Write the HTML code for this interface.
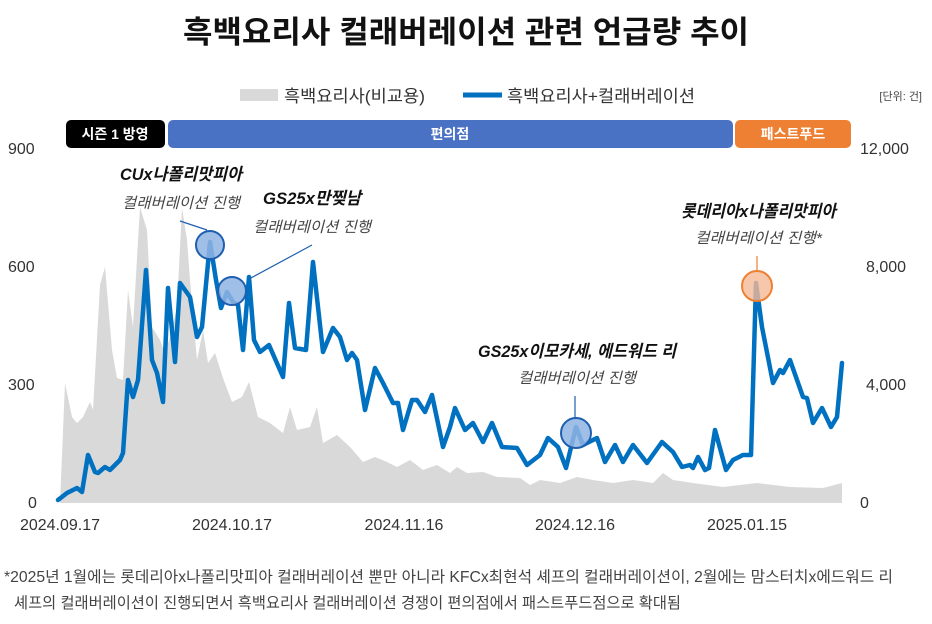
<!DOCTYPE html><html><head><meta charset="utf-8"><style>
body{margin:0;background:#fff;width:932px;height:619px;overflow:hidden;font-family:"Liberation Sans","Noto Sans CJK KR",sans-serif}
</style></head><body>
<svg width="932" height="619" viewBox="0 0 932 619" xmlns="http://www.w3.org/2000/svg" style="font-family:'Liberation Sans','Noto Sans CJK KR',sans-serif">
<text x="183" y="43" font-size="31" font-weight="bold" fill="#111" textLength="566" lengthAdjust="spacingAndGlyphs">흑백요리사 컬래버레이션 관련 언급량 추이</text>
<rect x="240" y="89" width="38" height="12" fill="#d9d9d9"/>
<text x="284" y="102" font-size="17" fill="#333" textLength="141" lengthAdjust="spacingAndGlyphs">흑백요리사(비교용)</text>
<line x1="463" y1="95" x2="502" y2="95" stroke="#0070c0" stroke-width="5"/>
<text x="507" y="102" font-size="17" fill="#333" textLength="188" lengthAdjust="spacingAndGlyphs">흑백요리사+컬래버레이션</text>
<text x="922" y="100" text-anchor="end" font-size="11" fill="#444">[단위: 건]</text>
<rect x="66" y="120" width="99" height="28" rx="5" fill="#000"/>
<text x="115" y="139" text-anchor="middle" font-size="14" font-weight="bold" fill="#fff">시즌 1 방영</text>
<rect x="168" y="120" width="565" height="28" rx="5" fill="#4a72c4"/>
<text x="450" y="139" text-anchor="middle" font-size="14" font-weight="bold" fill="#fff">편의점</text>
<rect x="735" y="120" width="116" height="28" rx="5" fill="#ee8033"/>
<text x="793" y="139" text-anchor="middle" font-size="14" font-weight="bold" fill="#fff">패스트푸드</text>
<g font-size="16" fill="#333">
<text x="8" y="154">900</text><text x="8" y="272">600</text><text x="8" y="390">300</text><text x="28" y="508">0</text>
<text x="860" y="154">12,000</text><text x="866" y="272">8,000</text><text x="866" y="390">4,000</text><text x="860" y="508">0</text>
<text x="60" y="530" text-anchor="middle">2024.09.17</text><text x="232" y="530" text-anchor="middle">2024.10.17</text><text x="404" y="530" text-anchor="middle">2024.11.16</text><text x="575" y="530" text-anchor="middle">2024.12.16</text><text x="747" y="530" text-anchor="middle">2025.01.15</text>
</g>
<polygon fill="#d9d9d9" points="60,503 65,383 72,417 77,423 83,417 90,402 93,410 100,285 105,267 112,350 117,378 123,380 128,290 133,327 140,207 147,230 152,327 160,340 165,353 170,337 177,307 182,208 187,240 190,280 197,360 203,330 208,363 215,353 223,378 232,402 242,397 249,382 258,417 270,423 283,433 290,407 297,430 310,427 317,407 323,443 337,435 350,447 363,462 375,457 387,462 397,467 410,460 423,470 437,465 450,473 457,467 467,473 483,472 497,477 520,478 530,485 540,480 560,483 577,477 593,480 613,483 633,480 653,483 663,473 673,480 693,483 723,487 757,483 790,487 823,488 842,483 842,503"/>
<polyline fill="none" stroke="#0070c0" stroke-width="4.5" stroke-linejoin="round" stroke-linecap="round" points="58,500 67,493 77,488 82,492 88,455 95,472 98,473 105,467 110,470 120,460 123,453 128,380 133,397 138,380 146,270 152,360 157,373 163,402 168,288 175,362 180,283 190,297 197,337 202,327 210,242 216,280 221,308 227,292 233,302 238,305 243,350 249,277 254,340 260,352 269,345 283,377 289,303 295,348 306,350 313,262 323,352 333,328 340,337 347,360 352,353 357,360 365,410 375,368 383,383 393,403 398,403 403,430 412,400 417,400 425,412 432,395 443,447 450,427 455,408 465,430 473,423 483,442 492,423 502,447 517,448 527,465 540,455 548,438 558,447 566,468 576,427 583,445 597,438 605,462 615,445 623,462 633,445 647,463 662,442 673,452 682,467 690,465 693,468 698,457 705,470 709,468 715,430 726,470 733,460 743,455 751,455 756,283 762,327 773,383 780,370 783,373 790,360 803,397 807,398 813,423 822,408 831,427 837,417 842,363"/>
<g stroke="#1f5fb0" stroke-width="1.2"><line x1="180" y1="221" x2="207" y2="230"/><line x1="249" y1="279" x2="312" y2="245"/><line x1="575" y1="396" x2="575" y2="419"/></g>
<line x1="757" y1="256" x2="757" y2="272" stroke="#ee8033" stroke-width="1.2"/>
<g fill="#8fb4e3" fill-opacity="0.85" stroke="#1f5fb0" stroke-width="2"><circle cx="210" cy="245" r="14"/><circle cx="232" cy="291" r="14"/><circle cx="576" cy="433" r="15"/></g>
<circle cx="757" cy="286" r="15" fill="#f5b996" fill-opacity="0.8" stroke="#ee8033" stroke-width="2"/>
<g font-style="italic">
<text x="120" y="180" font-size="17" font-weight="bold" fill="#111" textLength="122" lengthAdjust="spacingAndGlyphs">CUx나폴리맛피아</text>
<text x="122" y="208" font-size="15" fill="#444" textLength="118" lengthAdjust="spacingAndGlyphs">컬래버레이션 진행</text>
<text x="263" y="204" font-size="17" font-weight="bold" fill="#111" textLength="98" lengthAdjust="spacingAndGlyphs">GS25x만찢남</text>
<text x="253" y="232" font-size="15" fill="#444" textLength="118" lengthAdjust="spacingAndGlyphs">컬래버레이션 진행</text>
<text x="478" y="357" font-size="17" font-weight="bold" fill="#111" textLength="198" lengthAdjust="spacingAndGlyphs">GS25x이모카세, 에드워드 리</text>
<text x="518" y="383" font-size="15" fill="#444" textLength="118" lengthAdjust="spacingAndGlyphs">컬래버레이션 진행</text>
<text x="681" y="217" font-size="17" font-weight="bold" fill="#111" textLength="155" lengthAdjust="spacingAndGlyphs">롯데리아x나폴리맛피아</text>
<text x="695" y="243" font-size="15" fill="#444" textLength="127" lengthAdjust="spacingAndGlyphs">컬래버레이션 진행*</text>
</g>
<text x="4" y="582" font-size="15.5" fill="#444" textLength="889" lengthAdjust="spacingAndGlyphs">*2025년 1월에는 롯데리아x나폴리맛피아 컬래버레이션 뿐만 아니라 KFCx최현석 셰프의 컬래버레이션이, 2월에는 맘스터치x에드워드 리</text>
<text x="14" y="608" font-size="15.5" fill="#444" textLength="667" lengthAdjust="spacingAndGlyphs">셰프의 컬래버레이션이 진행되면서 흑백요리사 컬래버레이션 경쟁이 편의점에서 패스트푸드점으로 확대됨</text>
</svg>
</body></html>
